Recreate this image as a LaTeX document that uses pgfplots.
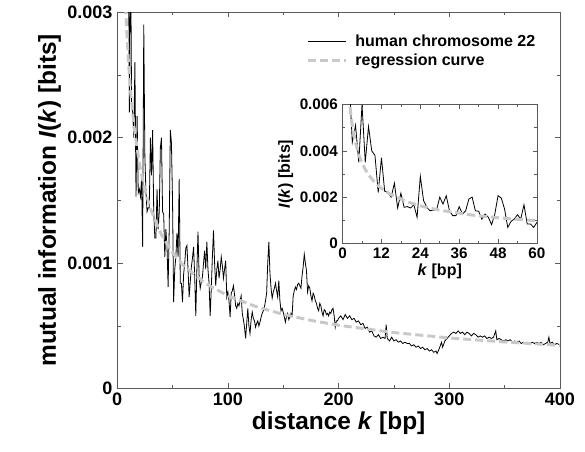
\documentclass[border=0pt]{standalone}
\usepackage{pgfplots}
\pgfplotsset{compat=1.18}
\usepackage{pgfplotstable}
\usepackage{fontspec}
\setmainfont{Liberation Sans}

\definecolor{regr}{RGB}{200,200,200}
\definecolor{frame}{RGB}{90,90,90}

% I(k), k in bp
\pgfplotstableread{
k I
1 0.0095
2 0.0072
3 0.00437
4 0.0051
5 0.0035
6 0.0060
7 0.0035
8 0.00505
9 0.0040
10 0.0038
11 0.0022
12 0.0037
13 0.00225
14 0.0022
15 0.0020
16 0.0026
17 0.00153
18 0.00217
19 0.00156
20 0.00159
21 0.00153
22 0.00167
23 0.00113
24 0.0029
25 0.00185
26 0.00156
27 0.00141
28 0.00144
29 0.00144
30 0.0020
31 0.0017
32 0.00206
33 0.00141
34 0.0012
35 0.0012
36 0.00159
37 0.00127
38 0.00141
39 0.00192
40 0.0020
41 0.00141
42 0.00139
43 0.00105
44 0.00127
45 0.00113
46 0.00081
47 0.00127
48 0.00206
49 0.00196
50 0.00149
51 0.00069
52 0.00095
53 0.00105
54 0.00124
55 0.00105
56 0.00167
57 0.00084
58 0.00084
59 0.00069
60 0.00091
61 0.00100
62 0.00112
63 0.00114
64 0.00095
65 0.00073
66 0.00085
67 0.00097
68 0.00104
69 0.00113
70 0.00090
71 0.00058
72 0.00095
73 0.00125
74 0.00090
75 0.00080
76 0.00085
77 0.00089
78 0.00100
79 0.00110
80 0.00095
81 0.00117
82 0.00095
83 0.00084
84 0.00058
85 0.00080
86 0.00105
87 0.00126
88 0.00100
89 0.00082
90 0.00095
91 0.00102
92 0.00088
93 0.00095
94 0.00105
95 0.00098
96 0.00088
97 0.00095
98 0.00102
99 0.00073
100 0.00077
101 0.00070
102 0.00057
103 0.00076
104 0.00078
105 0.00082
106 0.00075
107 0.00066
108 0.00064
109 0.00068
110 0.00066
111 0.00070
112 0.00074
113 0.00060
114 0.00055
115 0.00049
116 0.00040
117 0.00052
118 0.00064
119 0.00050
120 0.00044
121 0.00055
122 0.00061
123 0.00056
124 0.00054
125 0.00049
126 0.00052
127 0.00054
128 0.00050
129 0.00053
130 0.00057
131 0.00060
132 0.00062
133 0.00065
134 0.00070
135 0.00076
136 0.00100
137 0.00117
138 0.00092
139 0.00080
140 0.00072
141 0.00077
142 0.00080
143 0.00084
144 0.00078
145 0.00073
146 0.00086
147 0.00070
148 0.00062
149 0.00064
150 0.00061
151 0.00057
152 0.00053
153 0.00058
154 0.00060
155 0.00055
156 0.00057
157 0.00060
158 0.00058
159 0.00074
160 0.00078
161 0.00081
162 0.00079
163 0.00083
164 0.00084
165 0.00082
166 0.00080
167 0.00090
168 0.00097
169 0.00107
170 0.00100
171 0.00094
172 0.00077
173 0.00082
174 0.00080
175 0.00074
176 0.00070
177 0.00076
178 0.00074
179 0.00070
180 0.00068
181 0.00064
182 0.00062
183 0.00068
184 0.00066
185 0.00061
186 0.00058
187 0.00063
188 0.00062
189 0.00059
190 0.00060
191 0.00058
192 0.00061
193 0.00060
194 0.00063
195 0.00064
196 0.00058
197 0.00049
198 0.00054
199 0.00054
200 0.00056
202 0.00058
204 0.00055
206 0.00059
208 0.00056
210 0.00058
212 0.00055
214 0.00056
216 0.00053
218 0.00054
220 0.00051
222 0.00052
224 0.00048
226 0.00049
228 0.00045
230 0.00046
232 0.00042
234 0.00041
236 0.00043
238 0.00040
240 0.00041
242 0.00040
243 0.00051
244 0.00040
246 0.00038
248 0.00041
250 0.00038
252 0.00039
254 0.00037
256 0.00038
258 0.00036
260 0.00037
262 0.00036
264 0.00036
266 0.00034
268 0.00035
270 0.00033
272 0.00034
274 0.00032
276 0.00033
278 0.00031
280 0.00032
282 0.00030
284 0.00031
286 0.00029
288 0.00030
289 0.00028
291 0.00032
293 0.00037
294 0.00033
296 0.00038
298 0.00040
300 0.00042
302 0.00044
304 0.00045
306 0.00044
308 0.00046
310 0.00044
312 0.00045
314 0.00043
316 0.00045
318 0.00044
320 0.00042
322 0.00044
324 0.00043
326 0.00041
328 0.00042
330 0.00041
332 0.00042
334 0.00040
336 0.00041
338 0.00040
340 0.00041
342 0.00046
343 0.00039
345 0.00040
347 0.00039
349 0.00038
351 0.00039
353 0.00038
355 0.00039
357 0.00037
359 0.00038
361 0.00037
363 0.00038
365 0.00036
367 0.00037
369 0.00036
371 0.00037
373 0.00036
375 0.00037
377 0.00036
379 0.00037
381 0.00036
383 0.00037
385 0.00035
387 0.00036
389 0.00037
390 0.00041
391 0.00036
393 0.00037
395 0.00035
397 0.00036
400 0.00035
}\chrom

% regression curve, sampled
\pgfplotstableread{
k I
1.5 0.00745
2 0.00636
2.5 0.00563
3 0.00509
4 0.004346
5 0.003844
6 0.003477
7 0.003195
8 0.002968
10 0.002626
12 0.002375
15 0.002101
20 0.001793
25 0.001586
30 0.001435
40 0.001225
50 0.001083
60 0.000980
80 0.000837
100 0.000740
125 0.000655
150 0.000592
175 0.000544
200 0.000505
250 0.000447
300 0.000404
350 0.000372
400 0.000345
}\regr

\pgfplotsset{
  ref axis/.style={
    scale only axis,
    axis line style={frame, line width=0.5pt},
    tick style={frame, line width=0.4pt},
    major tick length=4pt,
    minor tick length=2.5pt,
    tick align=inside,
    scaled ticks=false,
    clip=true,
  },
}

\begin{document}
\begin{tikzpicture}
\useasboundingbox (-87.75pt,-47.25pt) rectangle (350.25pt,291pt);

\begin{axis}[
  ref axis,
  at={(0pt,0pt)}, anchor=south west,
  width=331.5pt, height=282pt,
  xmin=0, xmax=400, ymin=0, ymax=0.003,
  xtick={0,100,200,300,400},
  xticklabels={0,100,200,300,400},
  minor xtick={50,150,250,350},
  ytick={0,0.001,0.002,0.003},
  yticklabels={0,0.001,0.002,0.003},
  minor ytick={0.0005,0.0015,0.0025},
  ticklabel style={font=\fontsize{13.5}{15}\selectfont\bfseries},
  xlabel={distance \textit{k} [bp]},
  ylabel={mutual information \textit{I}(\textit{k}) [bits]},
  label style={font=\fontsize{18.3}{20}\selectfont\bfseries},
  xlabel style={yshift=3pt},
  ylabel style={yshift=-2pt},
  legend style={draw=none, fill=none, at={(0.96,0.955)}, anchor=north east,
    font=\fontsize{12}{14}\selectfont\bfseries, row sep=0pt},
  legend cell align=left,
  legend image code/.code={\draw[#1] (0cm,0cm) -- (1cm,0cm); \path (1.15cm,0cm);},
]
\addplot[black, line width=0.6pt] table[x=k, y=I] {\chrom};
\addlegendentry{human chromosome 22}
\addplot[regr, line width=2.2pt, dash pattern=on 6pt off 3pt] table[x=k, y=I] {\regr};
\addlegendentry{regression curve}
\end{axis}

\begin{axis}[
  ref axis,
  at={(168.75pt,108.75pt)}, anchor=south west,
  width=145.5pt, height=104pt,
  xmin=0, xmax=60, ymin=0, ymax=0.006,
  xtick={0,12,24,36,48,60},
  xticklabels={0,12,24,36,48,60},
  minor xtick={6,18,30,42,54},
  ytick={0,0.002,0.004,0.006},
  yticklabels={0,0.002,0.004,0.006},
  minor ytick={0.001,0.003,0.005},
  major tick length=3pt,
  minor tick length=2pt,
  ticklabel style={font=\fontsize{11.4}{13}\selectfont\bfseries},
  xlabel={\textit{k} [bp]},
  ylabel={\textit{I}(\textit{k}) [bits]},
  label style={font=\fontsize{12}{14}\selectfont\bfseries},
  xlabel style={yshift=3pt},
  ylabel style={yshift=-2pt},
]
\addplot[black, line width=0.6pt] table[x=k, y=I] {\chrom};
\addplot[regr, line width=2.2pt, dash pattern=on 6pt off 3pt] table[x=k, y=I] {\regr};
\end{axis}
\end{tikzpicture}
\end{document}
